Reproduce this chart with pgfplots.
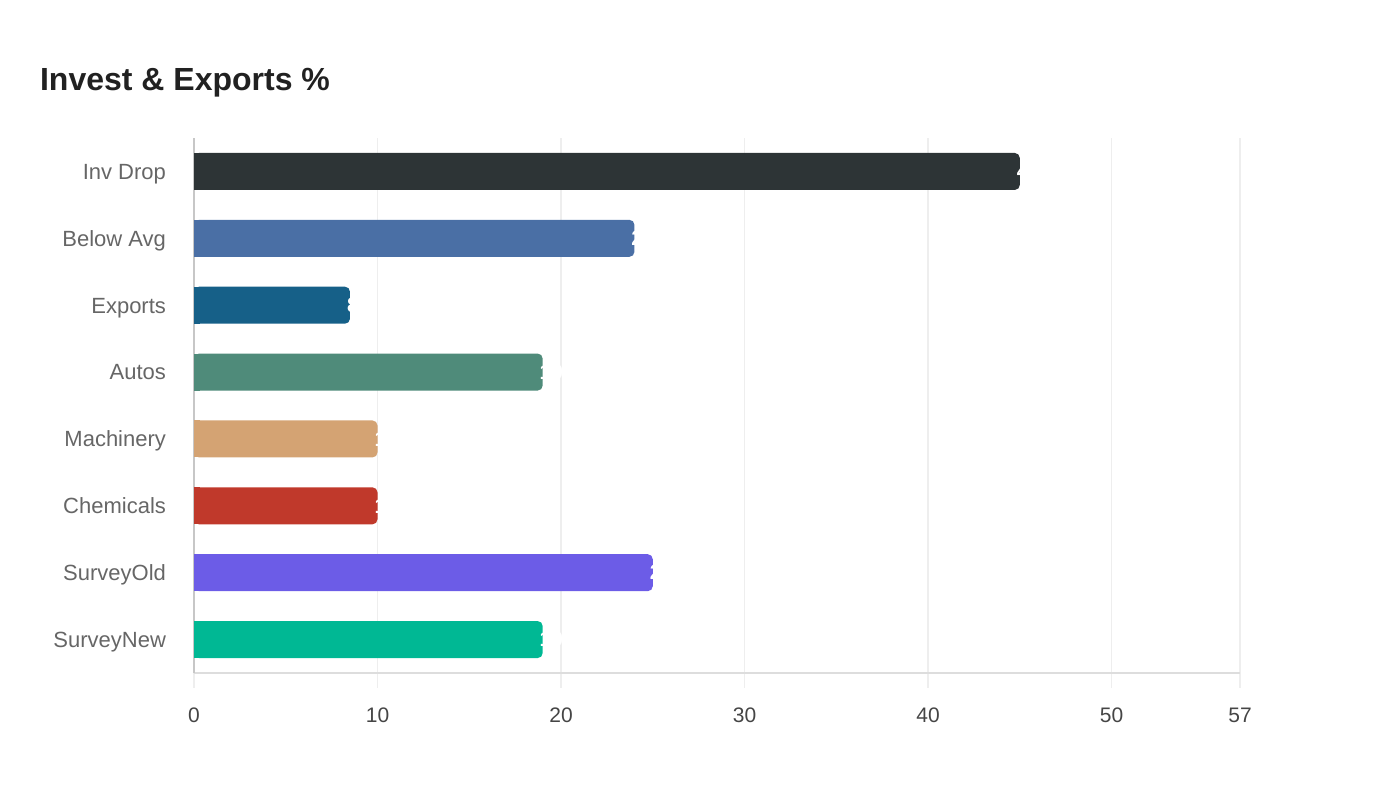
\documentclass[border=0pt]{standalone}
\usepackage{pgfplots}
\pgfplotsset{compat=1.18}
\usepackage{fontspec}
\setmainfont{Liberation Sans}

\definecolor{cInv}{HTML}{2D3436}
\definecolor{cBelow}{HTML}{4A6FA5}
\definecolor{cExp}{HTML}{166088}
\definecolor{cAuto}{HTML}{4F8B7A}
\definecolor{cMach}{HTML}{D4A373}
\definecolor{cChem}{HTML}{C0392B}
\definecolor{cOld}{HTML}{6C5CE7}
\definecolor{cNew}{HTML}{00B894}
\definecolor{gridc}{HTML}{EEEEEE}
\definecolor{axisc}{HTML}{DDDDDD}

% y position, value, colour
\newcommand{\catbar}[3]{%
  \addplot[fill=#3, draw=none] coordinates {(0.3,#1)};
  \addplot[fill=#3, draw=none, rounded corners=2.5pt,
    nodes near coords, point meta=explicit symbolic,
    every node near coord/.style={anchor=west, xshift=-5pt, text=white,
      font=\bfseries\fontsize{10.5}{12}\selectfont}]
    coordinates {(#2,#1) [#2]};
}

\begin{document}
\begin{tikzpicture}
\path[use as bounding box] (0,0) rectangle (700pt,400pt);
\node[anchor=base west, text=black!87, font=\bfseries\fontsize{16}{19}\selectfont]
  at (16.5pt,355pt) {Invest \& Exports \%};
\begin{axis}[
  at={(97pt,63.5pt)}, anchor=south west,
  width=523pt, height=267.5pt, scale only axis,
  xbar, bar width=18.5pt, bar shift=0pt,
  xmin=0, xmax=57, ymin=-0.5, ymax=7.5,
  xtick={0,10,20,30,40,50,57},
  ytick={0,...,7},
  yticklabels={SurveyNew,SurveyOld,Chemicals,Machinery,Autos,Exports,Below Avg,Inv Drop},
  axis x line*=bottom, axis y line*=left,
  x axis line style={draw=axisc, line width=0.8pt},
  y axis line style={draw=black!22, line width=0.8pt},
  xmajorgrids, major grid style={draw=gridc, line width=0.8pt},
  tick align=outside, major tick length=7.5pt,
  x tick style={draw=gridc, line width=0.8pt},
  y tick style={draw=none},
  /pgf/number format/assume math mode=true,
  xticklabel style={text=black!73, font=\fontsize{10.5}{12}\selectfont, yshift=-6.5pt},
  yticklabel style={text=black!60, font=\fontsize{11}{13}\selectfont,
    anchor=base east, xshift=-3pt, yshift=-3.9pt},
  clip=false,
]
\catbar{7}{45}{cInv}
\catbar{6}{24}{cBelow}
\catbar{5}{8.5}{cExp}
\catbar{4}{19}{cAuto}
\catbar{3}{10}{cMach}
\catbar{2}{10}{cChem}
\catbar{1}{25}{cOld}
\catbar{0}{19}{cNew}
\end{axis}
\end{tikzpicture}
\end{document}
